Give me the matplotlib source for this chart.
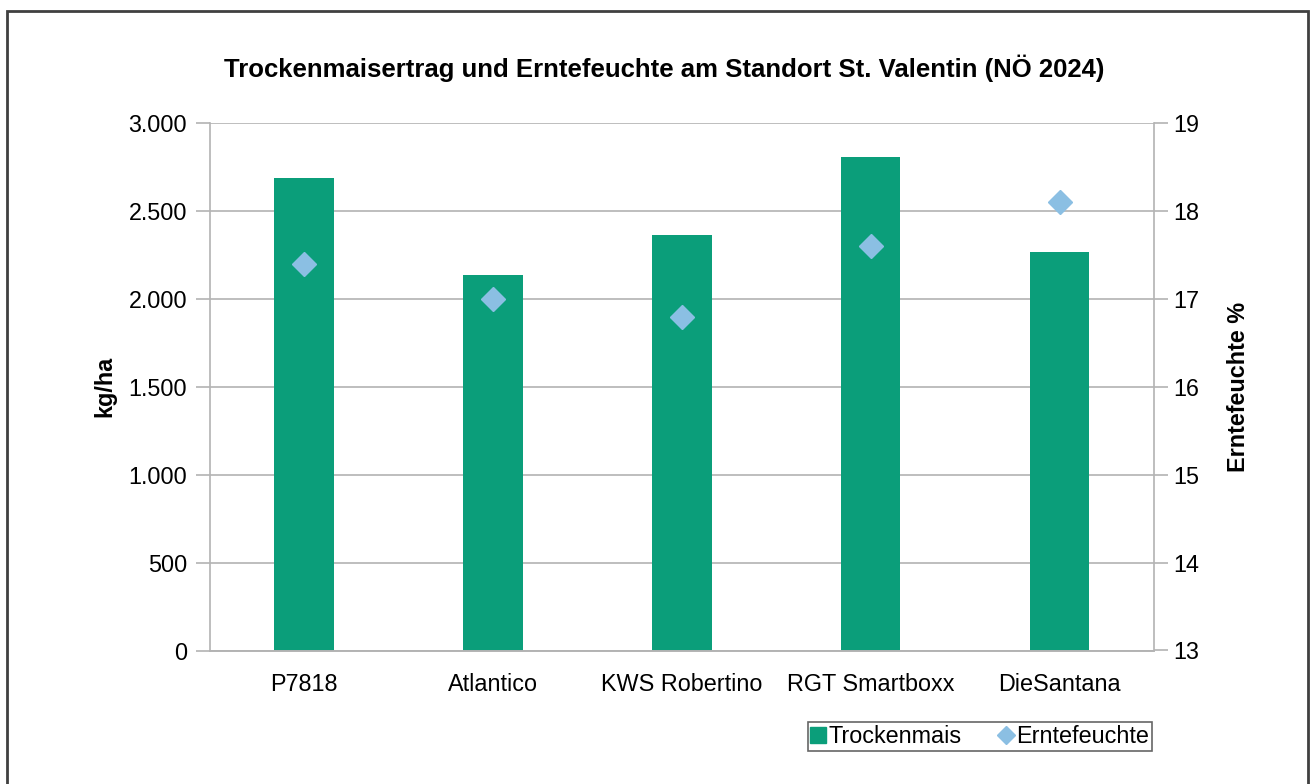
import matplotlib
matplotlib.use("Agg")
import matplotlib.pyplot as plt
from matplotlib.lines import Line2D
from matplotlib.patches import Rectangle
from matplotlib.ticker import FuncFormatter
import numpy as np

plt.rcParams['font.family'] = ['Liberation Sans', 'DejaVu Sans']

categories = ["P7818", "Atlantico", "KWS Robertino", "RGT Smartboxx", "DieSantana"]
yield_kg = [2690, 2135, 2365, 2810, 2265]
moisture = [17.4, 17.0, 16.8, 17.6, 18.1]
left_ticks = [0, 500, 1000, 1500, 2000, 2500, 3000]
right_ticks = [13, 14, 15, 16, 17, 18, 19]

title = "Trockenmaisertrag und Erntefeuchte am Standort St. Valentin (NÖ 2024)"

W, H = 1316, 784
fig = plt.figure(figsize=(W/100, H/100), dpi=100)

L, R, T, B = 209.5, 1154, 123.3, 650.5
ax = fig.add_axes([L/W, 1-B/H, (R-L)/W, (B-T)/H])
ax2 = ax.twinx()

bar_c = "#0b9e7a"
dia_c = "#8bbfe3"
grid_c = "#b3b3b3"
fs = 16.8

x = np.arange(len(categories))
ax.bar(x, yield_kg, width=0.315, color=bar_c, zorder=2)
ax.set_xlim(-0.5, len(categories)-0.5)
ax.set_ylim(0, 3000)
ax.set_yticks(left_ticks)
ax.yaxis.set_major_formatter(FuncFormatter(lambda v, p: f"{int(v):,}".replace(",", ".")))
ax.grid(axis='y', color=grid_c, linewidth=1.2, zorder=0)
ax.set_axisbelow(True)
ax.set_xticks(x)
ax.set_xticklabels(categories, fontsize=fs)
ax.tick_params(axis='x', length=0, pad=16)
ax.tick_params(axis='y', length=10, color=grid_c, width=1.2, labelsize=fs, pad=6)

ax2.plot(x, moisture, linestyle='none', marker='D', markersize=12.5, color=dia_c, zorder=3)
ax2.set_ylim(13, 19)
ax2.set_yticks(right_ticks)
ax2.tick_params(axis='y', length=10, color=grid_c, width=1.2, labelsize=fs, pad=4)

for a in (ax, ax2):
    a.spines['top'].set_visible(False)
    for s in ['left', 'right', 'bottom']:
        a.spines[s].set_color(grid_c)
        a.spines[s].set_linewidth(1.2)
ax2.spines['left'].set_visible(False)
ax.spines['right'].set_visible(False)

ax.set_ylabel("kg/ha", fontsize=fs, fontweight='bold', labelpad=9)
ax2.set_ylabel("Erntefeuchte %", fontsize=fs, fontweight='bold', labelpad=20)

fig.text(0.5 + 6/W, 1-68/H, title, ha='center', va='center', fontsize=18.5, fontweight='bold')

handles = [Line2D([], [], linestyle='none', marker='s', markersize=11, color=bar_c),
           Line2D([], [], linestyle='none', marker='D', markersize=9, color=dia_c)]
leg = fig.legend(handles, ["Trockenmais", "Erntefeuchte"], loc='upper right',
                 bbox_to_anchor=(1152/W, 1-722/H), ncol=2, fontsize=fs, frameon=True,
                 fancybox=False, edgecolor="#404040", handlelength=0.6, handletextpad=0.15,
                 columnspacing=1.6, borderpad=0.12, borderaxespad=0)
leg.get_frame().set_linewidth(1.2)

border = Rectangle((7/W, -0.05), (1308-7)/W, 1.05 - 11/H, transform=fig.transFigure,
                   fill=False, edgecolor="#404040", linewidth=2)
fig.patches.append(border)

fig.savefig("out.png", dpi=100)
